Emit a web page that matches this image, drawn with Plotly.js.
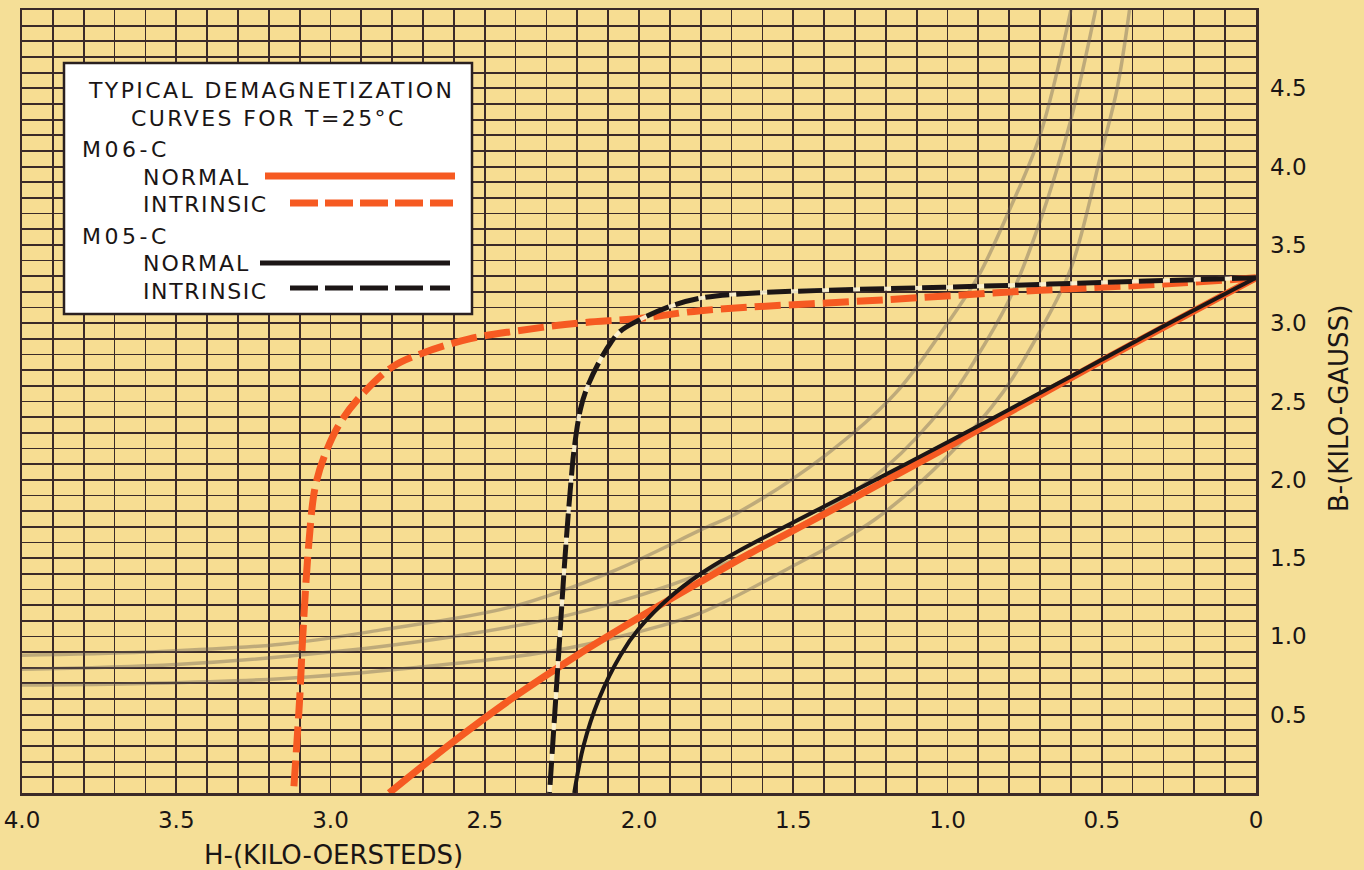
<!DOCTYPE html>
<html>
<head>
<meta charset="utf-8">
<script src="https://cdn.plot.ly/plotly-3.0.1.min.js"></script>
<style>
html,body{margin:0;padding:0;background:#f5df97;}
#chart{width:1364px;height:870px;}
</style>
</head>
<body>
<div id="chart"></div>
<script>
// ---- Data (H in kilo-oersteds, B in kilo-gauss) ----
const m06NormalH = [0, 0.5, 1.0, 1.4, 1.64, 1.8, 2.0, 2.2, 2.4, 2.6, 2.81];
const m06NormalB = [3.29, 2.76, 2.21, 1.78, 1.53, 1.35, 1.12, 0.88, 0.62, 0.33, 0.0];

const m06IntrinsicH = [0, 0.3, 0.7, 1.2, 1.8, 2.0, 2.2, 2.4, 2.55, 2.7, 2.8, 2.9, 2.97, 3.02, 3.05, 3.07, 3.09, 3.1, 3.12];
const m06IntrinsicB = [3.29, 3.25, 3.21, 3.15, 3.08, 3.03, 3.0, 2.95, 2.9, 2.81, 2.72, 2.54, 2.36, 2.15, 1.95, 1.6, 1.0, 0.6, 0.0];

const m05NormalH = [0, 0.3, 0.6, 1.0, 1.4, 1.7, 1.8, 1.9, 2.0, 2.06, 2.13, 2.18, 2.21];
const m05NormalB = [3.29, 2.98, 2.66, 2.24, 1.83, 1.52, 1.40, 1.25, 1.05, 0.88, 0.6, 0.3, 0.0];

const m05IntrinsicH = [0, 0.5, 1.0, 1.4, 1.65, 1.8, 1.91, 2.01, 2.06, 2.09, 2.13, 2.17, 2.19, 2.21, 2.22, 2.24, 2.26, 2.29];
const m05IntrinsicB = [3.29, 3.26, 3.23, 3.21, 3.19, 3.16, 3.10, 3.01, 2.95, 2.88, 2.75, 2.58, 2.45, 2.2, 2.0, 1.5, 0.9, 0.0];

// faint show-through curves
const faintAH = [0.6, 0.7, 0.8, 0.9, 1.0, 1.17, 1.4, 1.68, 1.8, 2.08, 2.41, 2.84, 3.16, 3.6, 4.0];
const faintAB = [5.0, 4.2, 3.72, 3.3, 3.0, 2.55, 2.15, 1.79, 1.68, 1.42, 1.19, 1.04, 0.95, 0.9, 0.88];
const faintBH = [0.52, 0.6, 0.7, 0.8, 0.9, 1.0, 1.2, 1.5, 1.8, 2.2, 2.6, 3.0, 3.5, 4.0];
const faintBB = [5.0, 4.3, 3.65, 3.15, 2.8, 2.5, 2.08, 1.68, 1.40, 1.15, 1.0, 0.9, 0.82, 0.79];
const faintCH = [0.41, 0.45, 0.5, 0.6, 0.7, 0.82, 1.0, 1.24, 1.51, 1.8, 2.0, 2.3, 2.73, 3.16, 3.6, 4.0];
const faintCB = [5.0, 4.5, 4.1, 3.35, 2.95, 2.56, 2.15, 1.74, 1.44, 1.15, 1.03, 0.9, 0.8, 0.73, 0.7, 0.69];

const xTickVals = [4.0, 3.5, 3.0, 2.5, 2.0, 1.5, 1.0, 0.5, 0];
const xTickText = ["4.0", "3.5", "3.0", "2.5", "2.0", "1.5", "1.0", "0.5", "0"];
const yTickVals = [0.5, 1.0, 1.5, 2.0, 2.5, 3.0, 3.5, 4.0, 4.5];
const yTickText = ["0.5", "1.0", "1.5", "2.0", "2.5", "3.0", "3.5", "4.0", "4.5"];

const legendTitle1 = "TYPICAL DEMAGNETIZATION";
const legendTitle2 = "CURVES FOR T=25°C";
const seriesGroups = ["M06-C", "M05-C"];
const seriesKinds = ["NORMAL", "INTRINSIC"];
const xTitle = "H-(KILO-OERSTEDS)";
const yTitle = "B-(KILO-GAUSS)";

// ---- styles ----
const ORANGE = "#f65a22";
const BLACK = "#1c1616";
const GRID = "#3b2a28";
const FAINT = "rgba(105,95,88,0.40)";
const FONT = "DejaVu Sans";
const TXT = "#1a1515";

// geometry helpers (plot area in pixels)
const PL = 22, PR = 1256, PT = 10, PB = 793;
const px = v => (v - PL) / (PR - PL);
const py = v => (PB - v) / (PB - PT);

const traces = [
  {x: faintAH, y: faintAB, mode: "lines", line: {color: FAINT, width: 3.5, shape: "spline"}, hoverinfo: "skip"},
  {x: faintBH, y: faintBB, mode: "lines", line: {color: FAINT, width: 3.5, shape: "spline"}, hoverinfo: "skip"},
  {x: faintCH, y: faintCB, mode: "lines", line: {color: FAINT, width: 3.5, shape: "spline"}, hoverinfo: "skip"},
  {x: m06IntrinsicH, y: m06IntrinsicB, mode: "lines", name: "M06-C INTRINSIC",
   line: {color: ORANGE, width: 7, dash: "26px,8px", shape: "spline"}},
  {x: m06NormalH, y: m06NormalB, mode: "lines", name: "M06-C NORMAL",
   line: {color: ORANGE, width: 7, shape: "spline"}},
  {x: m05IntrinsicH, y: m05IntrinsicB, mode: "lines", hoverinfo: "skip",
   line: {color: "rgba(252,244,215,0.9)", width: 4, shape: "spline"}},
  {x: m05IntrinsicH, y: m05IntrinsicB, mode: "lines", name: "M05-C INTRINSIC",
   line: {color: BLACK, width: 5, dash: "24px,7px", shape: "spline"}},
  {x: m05NormalH, y: m05NormalB, mode: "lines", name: "M05-C NORMAL",
   line: {color: BLACK, width: 4, shape: "spline"}}
];

const gridMinor = {tickmode: "linear", tick0: 0, dtick: 0.1, showgrid: true, gridcolor: GRID, gridwidth: 1.8, ticks: ""};

const shapes = [
  // legend box
  {type: "rect", xref: "paper", yref: "paper", x0: px(64), x1: px(472), y0: py(314), y1: py(63),
   fillcolor: "#ffffff", line: {color: "#2a2020", width: 2.5}, layer: "above"},
  // legend samples
  {type: "line", xref: "paper", yref: "paper", x0: px(265), x1: px(455), y0: py(176), y1: py(176),
   line: {color: ORANGE, width: 7}, layer: "above"},
  {type: "line", xref: "paper", yref: "paper", x0: px(290), x1: px(453), y0: py(203), y1: py(203),
   line: {color: ORANGE, width: 7, dash: "28px,7px"}, layer: "above"},
  {type: "line", xref: "paper", yref: "paper", x0: px(260), x1: px(450), y0: py(263), y1: py(263),
   line: {color: BLACK, width: 5}, layer: "above"},
  {type: "line", xref: "paper", yref: "paper", x0: px(290), x1: px(450), y0: py(288), y1: py(288),
   line: {color: BLACK, width: 5, dash: "28px,7px"}, layer: "above"}
];

const spaced = (t, s) => '<span style="letter-spacing:' + s + 'px">' + t + '</span>';
const ann = (text, x, y, anchor, size) => ({text: text, xref: "paper", yref: "paper", x: px(x), y: py(y),
  xanchor: anchor || "left", yanchor: "middle", showarrow: false, borderpad: 0,
  font: {family: FONT, size: size || 22, color: TXT}});

const annotations = [
  ann(spaced(legendTitle1, 2.4), 271, 90.5, "center", 22),
  ann(spaced(legendTitle2, 2.4), 268, 118, "center", 22),
  ann(spaced(seriesGroups[0], 3.5), 81, 149.5, "left", 22),
  ann(spaced(seriesKinds[0], 2), 142, 177, "left", 22),
  ann(spaced(seriesKinds[1], 1.6), 142, 204.5, "left", 22),
  ann(spaced(seriesGroups[1], 3.5), 81, 236, "left", 22),
  ann(spaced(seriesKinds[0], 2), 142, 263.5, "left", 22),
  ann(spaced(seriesKinds[1], 1.6), 142, 291, "left", 22),
  ann(xTitle, 203, 855, "left", 26),
  {text: yTitle, xref: "paper", yref: "paper", x: px(1339), y: py(409),
   xanchor: "center", yanchor: "middle", textangle: -90, showarrow: false,
   font: {family: FONT, size: 26, color: TXT}}
];

const layout = {
  width: 1364, height: 870,
  margin: {l: PL, r: 1364 - PR, t: PT, b: 870 - PB},
  paper_bgcolor: "#f5df97",
  plot_bgcolor: "#f7dd92",
  showlegend: false,
  font: {family: FONT, color: TXT},
  xaxis: {
    range: [4, 0], tickmode: "array", tickvals: xTickVals, ticktext: xTickText,
    showgrid: true, gridcolor: GRID, gridwidth: 1.8, zeroline: false,
    showline: true, linecolor: GRID, linewidth: 2.5, mirror: true,
    ticks: "", ticklabelstandoff: 5, tickfont: {family: FONT, size: 23, color: TXT},
    minor: gridMinor
  },
  yaxis: {
    range: [0, 5], side: "right", tickmode: "array", tickvals: yTickVals, ticktext: yTickText,
    showgrid: true, gridcolor: GRID, gridwidth: 1.8, zeroline: false,
    showline: true, linecolor: GRID, linewidth: 2.5, mirror: true,
    ticks: "", ticklabelstandoff: 7, tickfont: {family: FONT, size: 23, color: TXT},
    minor: gridMinor
  },
  shapes: shapes,
  annotations: annotations
};

Plotly.newPlot("chart", traces, layout, {displayModeBar: false, staticPlot: true});
</script>
</body>
</html>
